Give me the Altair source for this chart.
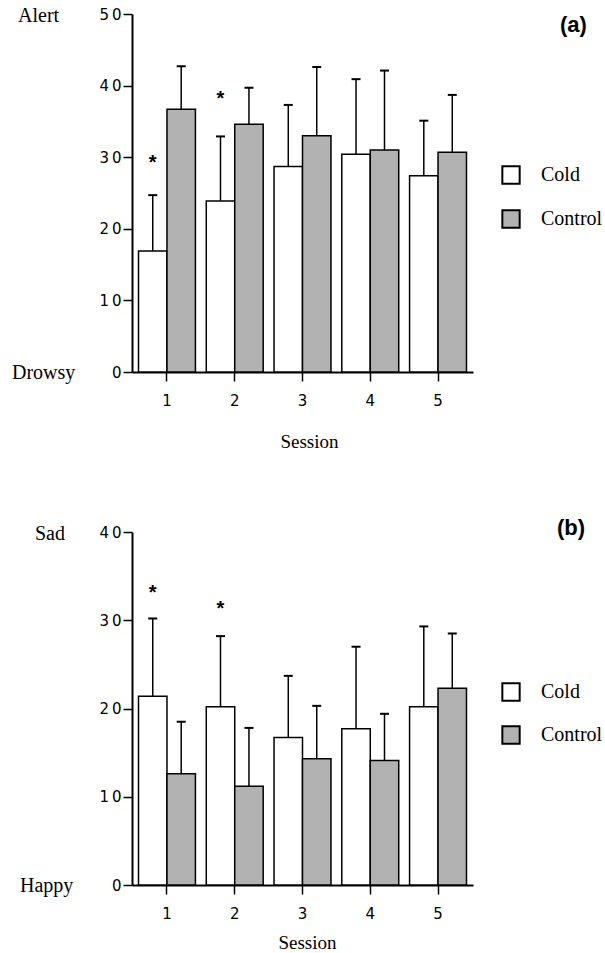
import altair as alt
import pandas as pd

sessions = ["1", "2", "3", "4", "5"]
groups = ["Cold", "Control"]

# Panel (a): Alert / Drowsy
a_cold_mean = [16.9, 23.9, 28.7, 30.4, 27.4]
a_cold_upper = [24.7, 32.9, 37.3, 40.9, 35.1]
a_ctrl_mean = [36.7, 34.6, 33.0, 31.0, 30.7]
a_ctrl_upper = [42.7, 39.7, 42.6, 42.1, 38.7]
a_star_sessions = ["1", "2"]
a_star_values = [30.0, 39.0]

# Panel (b): Sad / Happy
b_cold_mean = [21.4, 20.2, 16.7, 17.7, 20.2]
b_cold_upper = [30.2, 28.2, 23.7, 27.0, 29.3]
b_ctrl_mean = [12.6, 11.2, 14.3, 14.1, 22.3]
b_ctrl_upper = [18.5, 17.8, 20.3, 19.4, 28.5]
b_star_sessions = ["1", "2"]
b_star_values = [33.8, 31.9]

SERIF = "Liberation Serif"
SANS = "DejaVu Sans"


def make_df(cm, cu, km, ku):
    rows = []
    for i, s in enumerate(sessions):
        rows.append({"Session": s, "Group": "Cold", "Mean": cm[i], "Upper": cu[i]})
        rows.append({"Session": s, "Group": "Control", "Mean": km[i], "Upper": ku[i]})
    return pd.DataFrame(rows)


def make_star(ss, vv):
    return pd.DataFrame({"Session": ss, "Group": ["Cold"] * len(ss), "Star": vv})


def panel(df, star_df, ymax, top_label, bottom_label, top_x, bottom_x, tag, tag_x, tag_y,
          title_pad, title_x, legend_y, row_pad):
    xscale = alt.Scale(domain=sessions, paddingInner=0.16, paddingOuter=0.096)
    xoscale = alt.Scale(domain=groups, paddingInner=0, paddingOuter=0)
    yscale = alt.Scale(domain=[0, ymax], nice=False)

    x_axis = alt.Axis(title="Session", labelAngle=0, tickSize=9, tickWidth=1.5,
                      domainWidth=2, domainColor="black", tickColor="black",
                      labelFont=SANS, labelFontSize=15, labelColor="black", labelPadding=12,
                      titleFont=SERIF, titleFontSize=19, titleFontWeight="normal",
                      titleColor="black", titlePadding=title_pad, titleX=title_x)
    y_axis = alt.Axis(title=None, values=list(range(0, ymax + 1, 10)), grid=False,
                      tickSize=9, tickWidth=1.5, domainWidth=2, domainColor="black",
                      tickColor="black", labelFont=SANS, labelFontSize=15,
                      labelColor="black", labelPadding=2,
                      labelExpr="replace(datum.label, '0', '\u20090')")

    base_x = alt.X("Session:N", scale=xscale, axis=x_axis)
    base_xo = alt.XOffset("Group:N", scale=xoscale)

    bars = alt.Chart(df).mark_bar(stroke="black", strokeWidth=1.5).encode(
        x=base_x,
        xOffset=base_xo,
        y=alt.Y("Mean:Q", scale=yscale, axis=y_axis),
        fill=alt.Fill("Group:N",
                      scale=alt.Scale(domain=groups, range=["white", "#b2b2b2"]),
                      legend=alt.Legend(orient="none", legendX=369, legendY=legend_y,
                                        title=None, symbolType="square", symbolSize=300,
                                        symbolStrokeColor="black", symbolStrokeWidth=2,
                                        symbolOpacity=1, labelFont=SERIF, labelFontSize=20,
                                        labelColor="black", labelOffset=20,
                                        rowPadding=row_pad)),
    )
    rules = alt.Chart(df).mark_rule(color="black", strokeWidth=1.5).encode(
        x=alt.X("Session:N", scale=xscale),
        xOffset=alt.XOffset("Group:N", scale=xoscale),
        y=alt.Y("Mean:Q", scale=yscale),
        y2="Upper:Q",
    )
    caps = alt.Chart(df).mark_tick(color="black", thickness=2, size=9, opacity=1).encode(
        x=alt.X("Session:N", scale=xscale),
        xOffset=alt.XOffset("Group:N", scale=xoscale),
        y=alt.Y("Upper:Q", scale=yscale),
    )
    stars = alt.Chart(star_df).mark_text(text="*", font="Liberation Sans", fontSize=20,
                                         fontWeight="bold", baseline="alphabetic", dy=12,
                                         color="black").encode(
        x=alt.X("Session:N", scale=xscale),
        xOffset=alt.XOffset("Group:N", scale=xoscale),
        y=alt.Y("Star:Q", scale=yscale),
    )
    top_df = pd.DataFrame({"Label": [top_label], "Value": [ymax]})
    bot_df = pd.DataFrame({"Label": [bottom_label], "Value": [0]})
    top_txt = alt.Chart(top_df).mark_text(font=SERIF, fontSize=20, align="left",
                                          baseline="middle", dy=2, color="black").encode(
        x=alt.value(top_x), y=alt.Y("Value:Q", scale=yscale), text="Label:N")
    bot_txt = alt.Chart(bot_df).mark_text(font=SERIF, fontSize=20, align="left",
                                          baseline="middle", dy=1, color="black").encode(
        x=alt.value(bottom_x), y=alt.Y("Value:Q", scale=yscale), text="Label:N")
    tag_df = pd.DataFrame({"Tag": [tag]})
    tag_txt = alt.Chart(tag_df).mark_text(font="Liberation Sans", fontSize=22,
                                          fontWeight="bold", align="left",
                                          baseline="middle", color="black").encode(
        x=alt.value(tag_x), y=alt.value(tag_y), text="Tag:N")

    return alt.layer(bars, rules, caps, stars, top_txt, bot_txt, tag_txt).properties(
        width=341, height=358 if ymax == 50 else 353)


df_a = make_df(a_cold_mean, a_cold_upper, a_ctrl_mean, a_ctrl_upper)
df_b = make_df(b_cold_mean, b_cold_upper, b_ctrl_mean, b_ctrl_upper)

pa = panel(df_a, make_star(a_star_sessions, a_star_values), 50, "Alert", "Drowsy",
           -114, -120, "(a)", 428, 11, 24, 177, 151, 18)
pb = panel(df_b, make_star(b_star_sessions, b_star_values), 40, "Sad", "Happy",
           -97, -112, "(b)", 425, -4, 12, 175, 150, 17)

chart = alt.vconcat(pa, pb, spacing=160, bounds="flush").resolve_scale(
    y="independent", fill="independent"
).resolve_legend(fill="independent").properties(
    padding={"left": 12, "top": 6, "right": 0, "bottom": 0},
    background="white",
).configure_view(stroke=None)

chart.save("out.html", embed_options={"renderer": "svg", "actions": False})
